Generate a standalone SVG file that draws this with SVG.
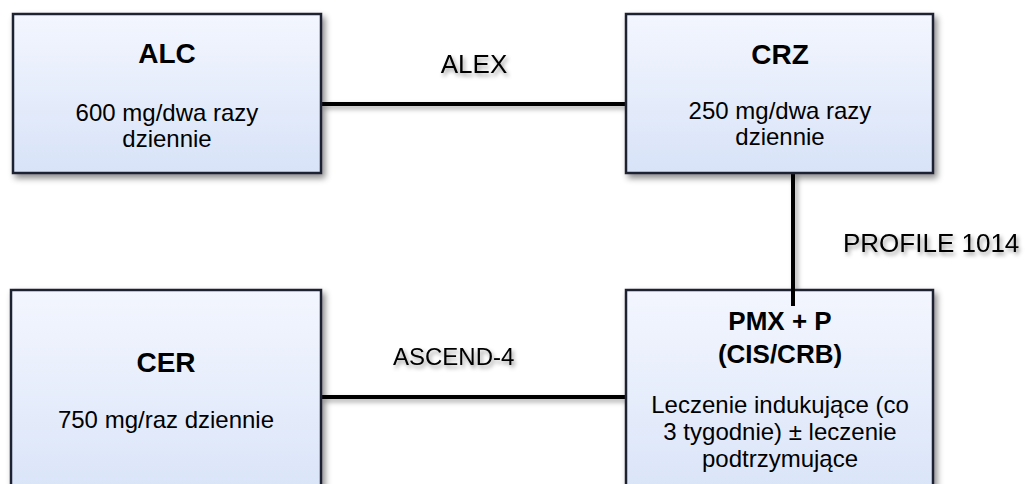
<svg xmlns="http://www.w3.org/2000/svg" width="1026" height="484" viewBox="0 0 1026 484">
  <defs>
    <linearGradient id="boxfill" x1="0" y1="0" x2="0" y2="1">
      <stop offset="0" stop-color="#f3f6fe"/>
      <stop offset="1" stop-color="#d8e3f8"/>
    </linearGradient>
    <filter id="boxshadow" x="-10%" y="-10%" width="130%" height="130%">
      <feDropShadow dx="3" dy="4" stdDeviation="3" flood-color="#000" flood-opacity="0.45"/>
    </filter>
    <filter id="lineshadow" filterUnits="userSpaceOnUse" x="0" y="0" width="1026" height="484">
      <feDropShadow dx="3" dy="3" stdDeviation="2.5" flood-color="#000" flood-opacity="0.35"/>
    </filter>
    <filter id="textshadow" x="-20%" y="-50%" width="140%" height="200%">
      <feDropShadow dx="2" dy="3" stdDeviation="2" flood-color="#000" flood-opacity="0.4"/>
    </filter>
  </defs>
  <style>
    .box { fill: url(#boxfill); stroke: #1b2030; stroke-width: 2.5; filter: url(#boxshadow); }
    .title { font-family: "Liberation Sans", Arial, sans-serif; font-weight: bold; font-size: 28px; fill: #000; text-anchor: middle; }
    .title2 { font-family: "Liberation Sans", Arial, sans-serif; font-weight: bold; font-size: 26px; fill: #000; text-anchor: middle; }
    .body { font-family: "Liberation Sans", Arial, sans-serif; font-size: 24px; fill: #000; text-anchor: middle; }
    .label { font-family: "Liberation Sans", Arial, sans-serif; font-size: 26px; fill: #000; filter: url(#textshadow); }
    .conn { stroke: #000; stroke-width: 4; fill: none; }
  </style>
  <rect width="1026" height="484" fill="#ffffff"/>

  <g id="connectors">
    <g filter="url(#lineshadow)">
      <line class="conn" x1="321" y1="104" x2="626" y2="104"/>
      <line class="conn" x1="321" y1="397" x2="626" y2="397"/>
      <line class="conn" x1="793" y1="173" x2="793" y2="290"/>
    </g>
    <text class="label" x="474" y="73" text-anchor="middle">ALEX</text>
    <text class="label" x="393" y="365" style="font-size:24px">ASCEND-4</text>
    <text class="label" x="843" y="252">PROFILE 1014</text>
  </g>

  <g id="node-alc">
    <rect class="box" x="13" y="14" width="308" height="159"/>
    <text class="title" x="167" y="63">ALC</text>
    <text class="body" x="167" y="121">600 mg/dwa razy</text>
    <text class="body" x="167" y="147">dziennie</text>
  </g>

  <g id="node-crz">
    <rect class="box" x="626" y="14" width="307" height="159"/>
    <text class="title" x="780" y="64">CRZ</text>
    <text class="body" x="780" y="119">250 mg/dwa razy</text>
    <text class="body" x="780" y="145">dziennie</text>
  </g>

  <g id="node-cer">
    <rect class="box" x="11" y="290" width="310" height="220"/>
    <text class="title" x="166" y="372">CER</text>
    <text class="body" x="166" y="428">750 mg/raz dziennie</text>
  </g>

  <g id="node-pmx">
    <rect class="box" x="626" y="290" width="307" height="220"/>
    <text class="title2" x="780" y="330">PMX + P</text>
    <text class="title2" x="780" y="363">(CIS/CRB)</text>
    <text class="body" x="780" y="413">Leczenie indukujące (co</text>
    <text class="body" x="780" y="440">3 tygodnie) ± leczenie</text>
    <text class="body" x="780" y="467">podtrzymujące</text>
  </g>
  <line class="conn" x1="793" y1="288" x2="793" y2="306"/>
</svg>
